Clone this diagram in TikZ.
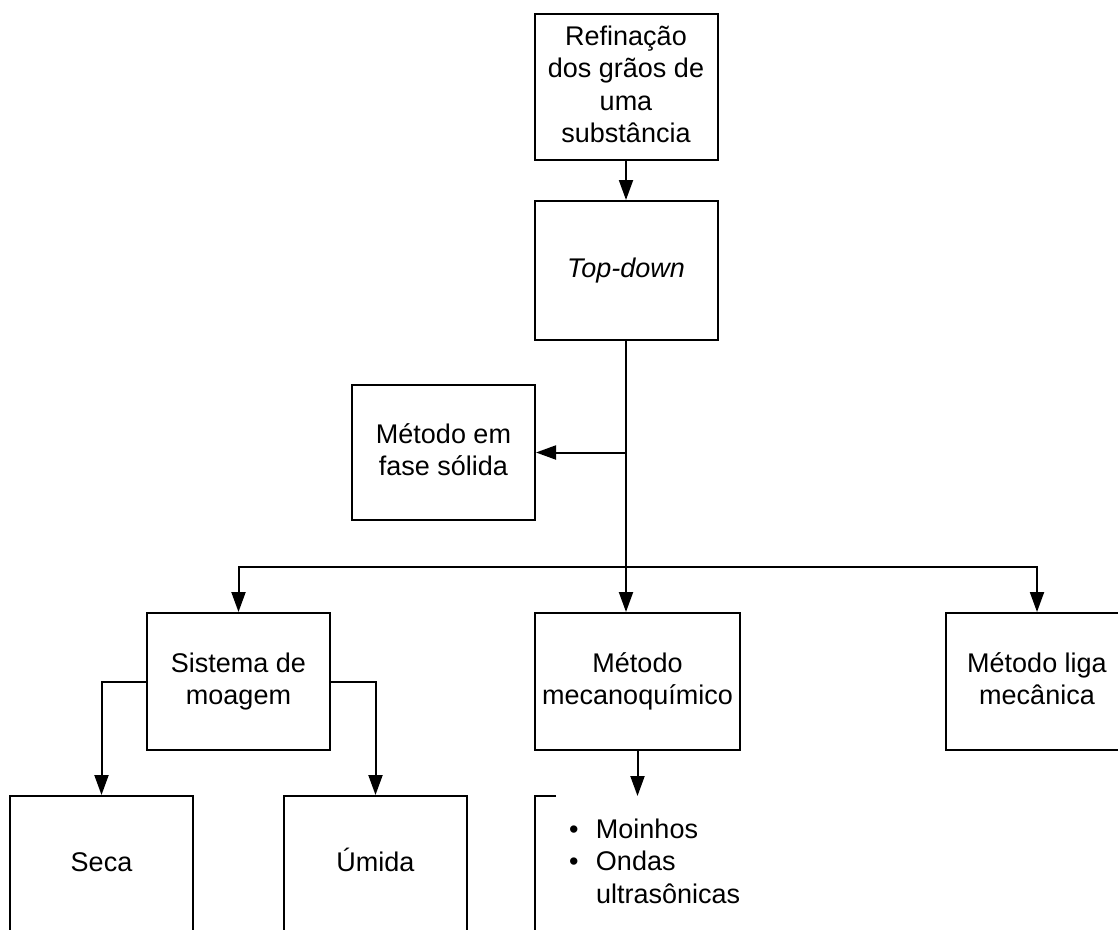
\documentclass[tikz,border=0pt]{standalone}
\usepackage{fontspec}
\setmainfont{Liberation Sans}
\usetikzlibrary{arrows.meta}

\begin{document}
\begin{tikzpicture}[x=1pt, y=-1pt, line width=2pt, >={Triangle[length=20pt,width=14pt]}, font=\fontsize{27}{32.5}\selectfont]
	\tikzstyle {Etapa} = [shape=rectangle, draw=black, line width=2pt, minimum width=183pt, minimum height=137pt, inner sep=0pt, align=center, text depth=6pt]
	\tikzstyle {Larga} = [Etapa, minimum width=205pt]
	\tikzstyle {Linha} = [Etapa, text height=20pt]

	\useasboundingbox (0,0) rectangle (1118,929);
	\clip (0,0) rectangle (1118,929);

	% Refinacao, Top-down, fase solida
	\node[Etapa, minimum height=146pt] (Etapa-ref) at (626,87) {Refinação\\dos grãos de\\uma\\substância};
	\node[Etapa, minimum height=139pt] (Etapa-top) at (626,270.5) {\textit{Top-down}};
	\node[Etapa, minimum height=135pt] (Etapa-solida) at (443.5,452.5) {Método em\\fase sólida};

	% metodos
	\node[Etapa] (Etapa-moagem) at (238.5,681.5) {Sistema de\\moagem};
	\node[Larga] (Etapa-mecano) at (637.5,681.5) {Método\\mecanoquímico};
	\node[Etapa] (Etapa-liga) at (1037,681.5) {Método liga\\mecânica};

	% seca / umida
	\node[Linha] (Etapa-seca) at (101.5,864.5) {Seca};
	\node[Linha] (Etapa-umida) at (375.5,864.5) {Úmida};

	% lista (moinhos, ondas)
	\node[anchor=north west, minimum width=205pt, minimum height=137pt] (Lista-box) at (535,796) {};
	\node[anchor=north west, align=left, inner sep=0pt] (Lista) at (568,817.5) {\makebox[27pt][l]{\textbullet}Moinhos\\\makebox[27pt][l]{\textbullet}Ondas\\\makebox[27pt][l]{}ultrasônicas};
	\draw ([xshift=21pt]Lista-box.north west) -- (Lista-box.north west) -- (Lista-box.south west);

	\coordinate (bus) at (626,567);

	\draw[->] (Etapa-ref) -- (Etapa-top);
	\draw[->] (Etapa-top.south) -- (Etapa-top.south |- Etapa-mecano.north);
	\draw[->] (Etapa-solida.east -| Etapa-top.south) -- (Etapa-solida.east);
	\draw[->] (bus) -| (Etapa-moagem.north);
	\draw[->] (bus) -| (Etapa-liga.north);
	\draw[->] (Etapa-moagem.west) -| (Etapa-seca.north);
	\draw[->] (Etapa-moagem.east) -| (Etapa-umida.north);
	\draw[->] (Etapa-mecano) -- (Etapa-mecano.south |- Lista-box.north);
\end{tikzpicture}
\end{document}
